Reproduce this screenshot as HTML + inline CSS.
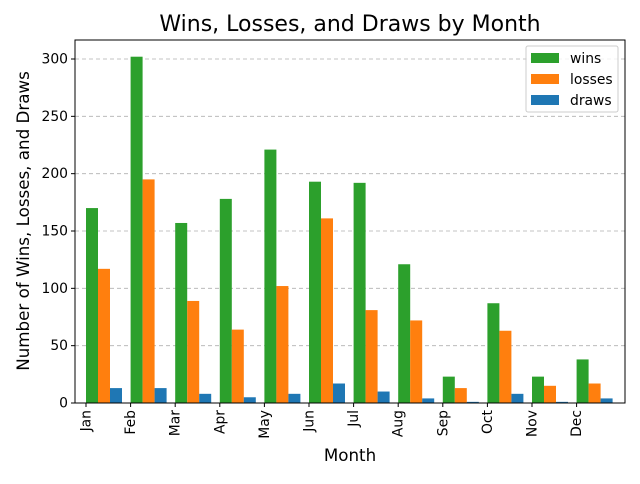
<!DOCTYPE html>
<html><head><meta charset="utf-8"><style>
body{margin:0;background:#fff;font-family:"DejaVu Sans","Liberation Sans",sans-serif}
svg text{font-family:"DejaVu Sans","Liberation Sans",sans-serif}
</style></head><body>
<svg id="chart" width="640" height="480" xmlns="http://www.w3.org/2000/svg">
<rect width="640" height="480" fill="#fff"/>
<text x="350" y="31" text-anchor="middle" font-size="22">Wins, Losses, and Draws by Month</text>
<g id="grid"></g><g id="bars"></g><g id="axes"></g>
<text x="350" y="461" text-anchor="middle" font-size="16.7">Month</text>
<text transform="translate(29,221) rotate(-90)" text-anchor="middle" font-size="16.7">Number of Wins, Losses, and Draws</text>
<g>
<rect x="526" y="46" width="92" height="66" fill="#fff" fill-opacity="0.8" stroke="#ccc" rx="2"/>
<rect x="531" y="53" width="28" height="10" fill="#2ca02c"/><text x="570" y="63" font-size="13.9">wins</text>
<rect x="531" y="74" width="28" height="10" fill="#ff7f0e"/><text x="570" y="84" font-size="13.9">losses</text>
<rect x="531" y="95" width="28" height="10" fill="#1f77b4"/><text x="570" y="105" font-size="13.9">draws</text>
</g>
</svg>
<script>
const months=["Jan","Feb","Mar","Apr","May","Jun","Jul","Aug","Sep","Oct","Nov","Dec"];
const wins=[170,302,157,178,221,193,192,121,23,87,23,38];
const losses=[117,195,89,64,102,161,81,72,13,63,15,17];
const draws=[13,13,8,5,8,17,10,4,1,8,1,4];
const yTicks=[0,50,100,150,200,250,300];
const NS="http://www.w3.org/2000/svg";
const L=75,R=625,T=40,B=403;
const y=v=>B-v*(344/300);
const x=i=>86+44.6*i;
const bw=12;
function mk(t,a,p){const e=document.createElementNS(NS,t);for(const k in a)e.setAttribute(k,a[k]);p.appendChild(e);return e;}
const grid=document.getElementById('grid'),bars=document.getElementById('bars'),axes=document.getElementById('axes');
yTicks.forEach(v=>{
  const g=mk('line',{x1:L,x2:R,y1:y(v),y2:y(v),stroke:'#b0b0b0','stroke-dasharray':'4,3','stroke-width':0.8},grid);
  
  
  mk('line',{x1:L-4,x2:L,y1:y(v),y2:y(v),stroke:'#000'},axes);
  const t=mk('text',{x:L-7,y:y(v)+4.5,'text-anchor':'end','font-size':13.9},axes);t.textContent=v;
  
  
});
const series=[[wins,'#2ca02c','wins'],[losses,'#ff7f0e','losses'],[draws,'#1f77b4','draws']];
months.forEach((m,i)=>{
  series.forEach(([d,c,n],s)=>{
    const r=mk('rect',{x:x(i)+s*bw,y:y(d[i]),width:bw,height:B-y(d[i]),fill:c},bars);
    
    
  });
  mk('line',{x1:x(i),x2:x(i),y1:B,y2:B+4,stroke:'#000'},axes);
  const t=mk('text',{transform:`translate(${x(i)+4.5},${B+7}) rotate(-90)`,'text-anchor':'end','font-size':13.9},axes);t.textContent=m;
  
  
});
const f=mk('rect',{x:L,y:T,width:R-L,height:B-T,fill:'none',stroke:'#000','stroke-width':1},axes);


</script>
</body></html>
